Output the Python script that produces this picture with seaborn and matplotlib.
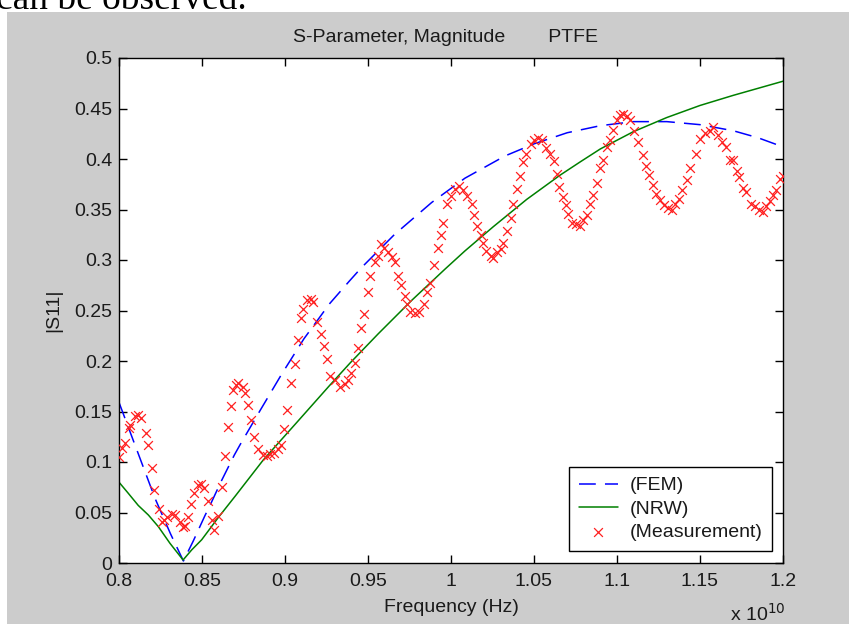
import matplotlib
matplotlib.use("Agg")
import matplotlib.pyplot as plt
import seaborn as sns
import pandas as pd
from matplotlib.patches import Rectangle

# ---------------- data (frequency in units of 1e10 Hz) ----------------
fem_f = [0.800, 0.8217, 0.831, 0.8388, 0.8448, 0.8518, 0.8548, 0.8619, 0.8695, 0.8729,
         0.885, 0.898, 0.9114, 0.927, 0.9387, 0.9458, 0.9658, 0.9884, 1.0084, 1.0325,
         1.050, 1.070, 1.090, 1.110, 1.130, 1.150, 1.170, 1.185, 1.200]
fem_v = [0.159, 0.064, 0.029, 0.002, 0.022, 0.047, 0.057, 0.082, 0.107, 0.117,
         0.151, 0.187, 0.222, 0.257, 0.279, 0.292, 0.325, 0.357, 0.381, 0.403,
         0.415, 0.426, 0.433, 0.437, 0.437, 0.434, 0.428, 0.421, 0.412]

nrw_f = [0.800, 0.8056, 0.8116, 0.8177, 0.8237, 0.8307, 0.8386, 0.8438, 0.8498, 0.8598,
         0.8699, 0.8869, 0.907, 0.927, 0.9392, 0.9562, 0.9763, 0.9964, 1.0084, 1.0255,
         1.0456, 1.0657, 1.0777, 1.090, 1.1098, 1.1299, 1.150, 1.170, 1.185, 1.200]
nrw_v = [0.080, 0.069, 0.057, 0.0475, 0.036, 0.0195, 0.003, 0.013, 0.023, 0.045,
         0.066, 0.102, 0.139, 0.176, 0.198, 0.227, 0.260, 0.291, 0.309, 0.333,
         0.360, 0.384, 0.397, 0.410, 0.427, 0.441, 0.453, 0.463, 0.470, 0.477]

meas_f = [0.800, 0.802, 0.8036, 0.806, 0.8066, 0.8096, 0.8115, 0.813, 0.816, 0.8177,
          0.8197, 0.8213, 0.824, 0.826, 0.8273, 0.8287, 0.8317, 0.8337, 0.8367, 0.8387,
          0.840, 0.8417, 0.8434, 0.8454, 0.8478, 0.8494, 0.8514, 0.8534, 0.8558, 0.8574,
          0.8598, 0.8619, 0.8639, 0.8659, 0.8675, 0.8689, 0.8705, 0.8719, 0.8745, 0.876,
          0.878, 0.8793, 0.8813, 0.884, 0.8866, 0.889, 0.891, 0.8934, 0.896, 0.8975,
          0.8994, 0.9014, 0.9034, 0.906, 0.908, 0.9096, 0.911, 0.9135, 0.9155, 0.917,
          0.9195, 0.9215, 0.9235, 0.9255, 0.927, 0.930, 0.9331, 0.936, 0.938, 0.940,
          0.9422, 0.9442, 0.9458, 0.9478, 0.9498, 0.9512, 0.9542, 0.9558, 0.9578, 0.9598,
          0.9618, 0.9643, 0.9663, 0.9679, 0.970, 0.972, 0.9733, 0.9753, 0.9783, 0.9807,
          0.984, 0.9853, 0.9873, 0.990, 0.992, 0.994, 0.9954, 0.9974, 1.000, 1.0024,
          1.0048, 1.0074, 1.0098, 1.0125, 1.0139, 1.0158, 1.0179, 1.0195, 1.0211, 1.0239,
          1.0255, 1.0279, 1.030, 1.0315, 1.0335, 1.036, 1.0375, 1.0396, 1.0416, 1.0436,
          1.0452, 1.048, 1.050, 1.0526, 1.0546, 1.0572, 1.0596, 1.062, 1.0636, 1.0652,
          1.0672, 1.0692, 1.0707, 1.0727, 1.0753, 1.078, 1.0797, 1.0817, 1.0837, 1.0857,
          1.0878, 1.0898, 1.0918, 1.0938, 1.0958, 1.0978, 1.0998, 1.1018, 1.1038, 1.1058,
          1.1078, 1.1104, 1.1129, 1.1154, 1.1175, 1.1193, 1.1219, 1.1235, 1.1259, 1.1285,
          1.1309, 1.1329, 1.135, 1.1373, 1.1393, 1.142, 1.144, 1.1476, 1.150, 1.153,
          1.156, 1.158, 1.161, 1.163, 1.1657, 1.168, 1.170, 1.172, 1.1737, 1.1757,
          1.178, 1.1805, 1.1831, 1.1857, 1.188, 1.190, 1.192, 1.194, 1.196, 1.198,
          1.200]
meas_v = [0.105, 0.114, 0.119, 0.134, 0.137, 0.146, 0.147, 0.144, 0.129, 0.117,
          0.094, 0.072, 0.053, 0.041, 0.043, 0.046, 0.049, 0.048, 0.041, 0.036,
          0.037, 0.046, 0.058, 0.069, 0.077, 0.078, 0.074, 0.061, 0.043, 0.033,
          0.047, 0.075, 0.106, 0.135, 0.155, 0.171, 0.176, 0.178, 0.174, 0.168,
          0.156, 0.142, 0.125, 0.113, 0.107, 0.106, 0.108, 0.109, 0.113, 0.117,
          0.133, 0.151, 0.178, 0.197, 0.221, 0.243, 0.251, 0.260, 0.261, 0.258,
          0.239, 0.227, 0.215, 0.202, 0.185, 0.181, 0.174, 0.177, 0.181, 0.188,
          0.198, 0.213, 0.233, 0.247, 0.268, 0.284, 0.298, 0.304, 0.316, 0.312,
          0.308, 0.303, 0.298, 0.284, 0.275, 0.264, 0.256, 0.249, 0.248, 0.249,
          0.256, 0.268, 0.277, 0.295, 0.312, 0.325, 0.337, 0.355, 0.363, 0.370,
          0.373, 0.369, 0.363, 0.355, 0.345, 0.334, 0.325, 0.317, 0.309, 0.304,
          0.302, 0.308, 0.311, 0.317, 0.329, 0.342, 0.355, 0.370, 0.383, 0.397,
          0.405, 0.415, 0.419, 0.421, 0.419, 0.411, 0.405, 0.398, 0.385, 0.372,
          0.362, 0.354, 0.346, 0.337, 0.336, 0.334, 0.340, 0.345, 0.355, 0.364,
          0.376, 0.391, 0.399, 0.412, 0.419, 0.429, 0.439, 0.444, 0.445, 0.443,
          0.439, 0.428, 0.417, 0.404, 0.393, 0.384, 0.374, 0.365, 0.359, 0.354,
          0.351, 0.350, 0.355, 0.360, 0.369, 0.379, 0.391, 0.405, 0.420, 0.426,
          0.428, 0.432, 0.424, 0.417, 0.412, 0.399, 0.399, 0.388, 0.382, 0.371,
          0.367, 0.355, 0.353, 0.350, 0.348, 0.353, 0.358, 0.364, 0.369, 0.380,
          0.383]

x_ticks = [0.8, 0.85, 0.9, 0.95, 1.0, 1.05, 1.1, 1.15, 1.2]
x_tick_labels = ["0.8", "0.85", "0.9", "0.95", "1", "1.05", "1.1", "1.15", "1.2"]
y_ticks = [0, 0.05, 0.1, 0.15, 0.2, 0.25, 0.3, 0.35, 0.4, 0.45, 0.5]
y_tick_labels = ["0", "0.05", "0.1", "0.15", "0.2", "0.25", "0.3", "0.35", "0.4", "0.45", "0.5"]

fem_df = pd.DataFrame({"f": fem_f, "v": fem_v})
nrw_df = pd.DataFrame({"f": nrw_f, "v": nrw_v})
meas_df = pd.DataFrame({"f": meas_f, "v": meas_v})

# ---------------- figure ----------------
sns.set_theme(style="white")
plt.rcParams["font.family"] = ["Liberation Sans", "DejaVu Sans"]

W, H = 849, 624
fig = plt.figure(figsize=(W / 100, H / 100), dpi=100, facecolor="white")

# page text above the (gray) figure window, partly hidden as in the source
fig.text(-4 / W, 1 - 9 / H, "can be observed.", family="Liberation Serif",
         fontsize=27, color="black", ha="left", va="baseline", zorder=-2)
fig.patches.append(Rectangle((7 / W, 0), 1, 1 - 12 / H, transform=fig.transFigure,
                             facecolor="#cccccc", edgecolor="none", zorder=-1))

ax_l, ax_r, ax_t, ax_b = 119, 783, 58, 563
ax = fig.add_axes([ax_l / W, 1 - ax_b / H, (ax_r - ax_l) / W, (ax_b - ax_t) / H])
ax.set_facecolor("white")

fs = 14
tc = "#1a1a1a"

sns.lineplot(data=fem_df, x="f", y="v", ax=ax, color="#0000ff", lw=1.1,
             label="(FEM)", sort=False, estimator=None)
ax.lines[-1].set_dashes((11, 6))
sns.lineplot(data=nrw_df, x="f", y="v", ax=ax, color="#008000", lw=1.1,
             label="(NRW)", sort=False, estimator=None)
sns.scatterplot(data=meas_df, x="f", y="v", ax=ax, marker="x", color="#ff2020",
                s=40, linewidth=0.9, label="(Measurement)", zorder=3)

ax.set_xlim(0.8, 1.2)
ax.set_ylim(0, 0.5)
ax.set_xticks(x_ticks)
ax.set_xticklabels(x_tick_labels)
ax.set_yticks(y_ticks)
ax.set_yticklabels(y_tick_labels)
ax.tick_params(direction="in", length=6, width=1, colors="black", labelcolor=tc,
               labelsize=fs, top=True, right=True, bottom=True, left=True)
ax.tick_params(axis="x", pad=7)
ax.tick_params(axis="y", pad=5)
for s in ax.spines.values():
    s.set_visible(True)
    s.set_color("black")
    s.set_linewidth(1.0)

ax.set_xlabel("Frequency (Hz)", fontsize=fs, color=tc, labelpad=7)
ax.set_ylabel("|S11|", fontsize=fs, color=tc)
ax.yaxis.set_label_coords((62 - ax_l) / (ax_r - ax_l), 0.5)

fig.text(446 / W, 1 - 38 / H, "S-Parameter, Magnitude        PTFE", fontsize=fs,
         color=tc, ha="center", va="center")
fig.text(730 / W, 1 - 621 / H, "x 10$^{10}$", fontsize=fs, color=tc,
         ha="left", va="baseline")

leg = ax.legend(loc="lower right",
                bbox_to_anchor=((772 - ax_l) / (ax_r - ax_l), (ax_b - 551) / (ax_b - ax_t)),
                borderaxespad=0, fontsize=fs, frameon=True, fancybox=False,
                edgecolor="black", framealpha=1, handlelength=2.0, handletextpad=0.6,
                labelspacing=0.3, borderpad=0.5)
leg.get_frame().set_linewidth(1.0)
for t in leg.get_texts():
    t.set_color(tc)

fig.savefig("out.png", dpi=100, facecolor=fig.get_facecolor())
